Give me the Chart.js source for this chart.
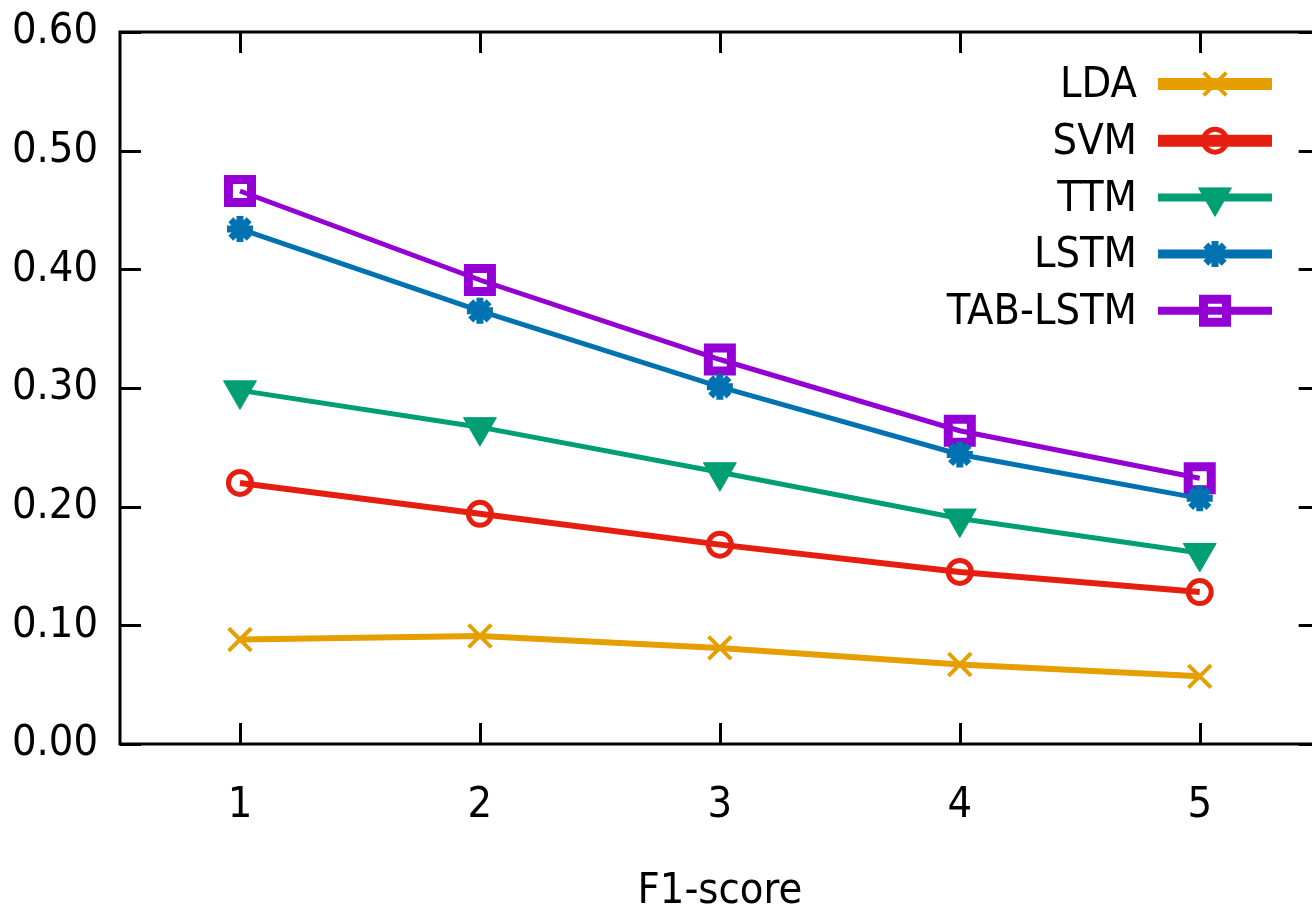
<!DOCTYPE html>
<html>
<head>
<meta charset="utf-8">
<script src="https://cdn.jsdelivr.net/npm/chart.js@4/dist/chart.umd.min.js"></script>
<style>
    html, body { margin: 0; padding: 0; background: #fff; overflow: hidden; }
    #wrap { position: absolute; left: 0; top: 0; }
</style>
</head>
<body>
<div id="wrap"><canvas id="f1Chart" width="1345" height="930"></canvas></div>
<script>
// values
const xLabels = ['1', '2', '3', '4', '5'];
const ldaScores = [0.088, 0.091, 0.081, 0.067, 0.057];
const svmScores = [0.220, 0.194, 0.168, 0.145, 0.128];
const ttmScores = [0.298, 0.267, 0.229, 0.190, 0.161];
const lstmScores = [0.434, 0.365, 0.301, 0.244, 0.207];
const tabLstmScores = [0.466, 0.391, 0.324, 0.264, 0.224];
const yMin = 0;
const yMax = 0.6;
const yStep = 0.1;
const xTitle = 'F1-score';

const FONT = "'DejaVu Sans Condensed', 'DejaVu Sans', sans-serif";
const FONT_SIZE = 43;

// gnuplot style frame: box + inward ticks, mirrored on top/right
const framePlugin = {
    id: 'frame',
    afterDraw(chart) {
        const ctx = chart.ctx;
        const a = chart.chartArea;
        const xs = chart.scales.x;
        const ys = chart.scales.y;
        const len = 21;
        ctx.save();
        ctx.strokeStyle = '#000';
        ctx.lineWidth = 3;
        ctx.lineCap = 'butt';
        ctx.strokeRect(a.left, a.top, a.right - a.left, a.bottom - a.top);
        ctx.beginPath();
        ys.ticks.forEach(t => {
            const py = Math.round(ys.getPixelForValue(t.value)) + 0.5;
            ctx.moveTo(a.left, py);
            ctx.lineTo(a.left + len, py);
            ctx.moveTo(a.right, py);
            ctx.lineTo(a.right - len, py);
        });
        xs.ticks.forEach((t, i) => {
            const px = Math.round(xs.getPixelForTick(i)) + 0.5;
            ctx.moveTo(px, a.bottom);
            ctx.lineTo(px, a.bottom - len);
            ctx.moveTo(px, a.top);
            ctx.lineTo(px, a.top + len);
        });
        ctx.stroke();
        ctx.restore();
    }
};

// key in the top right corner: text on the left, line sample + marker on the right
const keyPlugin = {
    id: 'key',
    afterDraw(chart) {
        const ctx = chart.ctx;
        const textRight = 1137;
        const lineLeft = 1158;
        const lineRight = 1272;
        const firstRow = 84;
        const rowGap = 56.7;
        ctx.save();
        chart.data.datasets.forEach((ds, i) => {
            const y = firstRow + i * rowGap;
            ctx.font = FONT_SIZE + 'px ' + FONT;
            ctx.fillStyle = '#000';
            ctx.textAlign = 'right';
            ctx.textBaseline = 'middle';
            ctx.fillText(ds.label, textRight, y + 2);

            ctx.strokeStyle = ds.borderColor;
            ctx.lineWidth = ds.keyLineWidth;
            ctx.beginPath();
            ctx.moveTo(lineLeft, y);
            ctx.lineTo(lineRight, y);
            ctx.stroke();

            ctx.fillStyle = ds.pointBackgroundColor;
            ctx.strokeStyle = ds.pointBorderColor;
            ctx.lineWidth = ds.pointBorderWidth;
            Chart.helpers.drawPoint(ctx, {
                pointStyle: ds.pointStyle,
                rotation: ds.pointRotation || 0,
                radius: ds.pointRadius,
                borderWidth: ds.pointBorderWidth
            }, (lineLeft + lineRight) / 2, y);
        });
        ctx.restore();
    }
};

function series(label, data, color, style) {
    return Object.assign({
        label: label,
        data: data,
        borderColor: color,
        pointBorderColor: color,
        pointBackgroundColor: 'rgba(0,0,0,0)',
        fill: false,
        tension: 0
    }, style);
}

// drop the label overflow padding chart.js adds, so the plot box sits where we want it
function noScalePadding(scale) {
    scale.paddingTop = 0;
    scale.paddingBottom = 0;
    scale.paddingLeft = 0;
    scale.paddingRight = 0;
}

const ctx = document.getElementById('f1Chart').getContext('2d');

const config = {
    type: 'line',
    data: {
        labels: xLabels,
        datasets: [
            series('LDA', ldaScores, '#E69F00', {
                borderWidth: 6, keyLineWidth: 12,
                pointStyle: 'crossRot', pointRadius: 16, pointBorderWidth: 4
            }),
            series('SVM', svmScores, '#E51E10', {
                borderWidth: 6, keyLineWidth: 12,
                pointStyle: 'circle', pointRadius: 11.5, pointBorderWidth: 5
            }),
            series('TTM', ttmScores, '#009E73', {
                borderWidth: 5, keyLineWidth: 8,
                pointStyle: 'triangle', pointRotation: 180, pointRadius: 19, pointBorderWidth: 1,
                pointBackgroundColor: '#009E73'
            }),
            series('LSTM', lstmScores, '#0072B2', {
                borderWidth: 5, keyLineWidth: 9,
                pointStyle: 'star', pointRadius: 13, pointBorderWidth: 7
            }),
            series('TAB-LSTM', tabLstmScores, '#9400D3', {
                borderWidth: 5, keyLineWidth: 8,
                pointStyle: 'rect', pointRadius: 16.3, pointBorderWidth: 9
            })
        ]
    },
    options: {
        responsive: false,
        animation: false,
        events: [],
        layout: {
            padding: { top: 32, left: 0, right: 10, bottom: 0 }
        },
        plugins: {
            legend: { display: false },
            tooltip: { enabled: false },
            title: { display: false }
        },
        scales: {
            x: {
                type: 'category',
                offset: true,
                grid: { display: false, drawTicks: false },
                border: { display: false },
                ticks: {
                    color: '#000',
                    padding: 36,
                    font: { family: FONT, size: FONT_SIZE }
                },
                title: {
                    display: true,
                    text: xTitle,
                    color: '#000',
                    font: { family: FONT, size: FONT_SIZE },
                    padding: { top: 0, bottom: 12 }
                },
                afterFit(scale) {
                    scale.height = 186;
                    noScalePadding(scale);
                }
            },
            y: {
                min: yMin,
                max: yMax,
                grid: { display: false, drawTicks: false },
                border: { display: false },
                ticks: {
                    stepSize: yStep,
                    color: '#000',
                    padding: 22,
                    font: { family: FONT, size: FONT_SIZE },
                    callback: v => Number(v).toFixed(2)
                },
                afterFit(scale) {
                    scale.width = 120;
                    noScalePadding(scale);
                }
            }
        }
    },
    plugins: [framePlugin, keyPlugin]
};

new Chart(ctx, config);
</script>
</body>
</html>
